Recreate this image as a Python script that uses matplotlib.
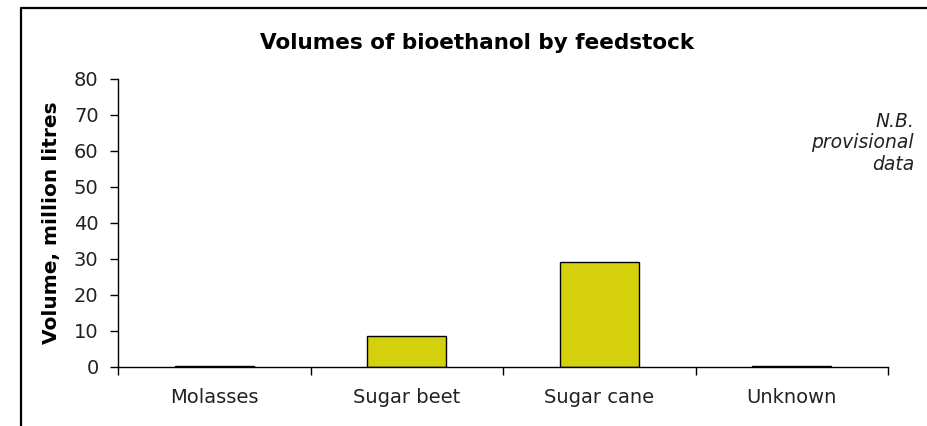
import matplotlib.pyplot as plt
from matplotlib.lines import Line2D

# Daten
feedstocks = ["Molasses", "Sugar beet", "Sugar cane", "Unknown"]
volumes = [0.4, 8.6, 29.2, 0.4]
y_ticks = [0, 10, 20, 30, 40, 50, 60, 70, 80]

BAR_COLOR = "#d4d00c"

fig = plt.figure(figsize=(9.27, 4.26), dpi=100)
ax = fig.add_axes([0.1273, 0.1385, 0.958 - 0.1273, 0.8153 - 0.1385])

x = range(len(feedstocks))
ax.bar(x, volumes, width=0.41, color=BAR_COLOR, edgecolor="black", linewidth=1.0)

ax.set_xlim(-0.5, len(feedstocks) - 0.5)
ax.set_ylim(0, 80)
ax.set_yticks(y_ticks)

# Ticks an den Kategoriegrenzen, Beschriftung mittig
ax.set_xticks([i - 0.5 for i in range(len(feedstocks) + 1)])
ax.set_xticklabels([])
ax.set_xticks(list(x), minor=True)
ax.set_xticklabels(feedstocks, minor=True)
ax.tick_params(axis="x", which="minor", length=0, pad=15, labelsize=14,
               labelcolor="#222222")
ax.tick_params(axis="x", which="major", length=6, width=1.0, direction="out")
ax.tick_params(axis="y", length=6, width=1.0, direction="out", pad=8,
               labelsize=14, labelcolor="#222222")

for side in ["top", "right"]:
    ax.spines[side].set_visible(False)
for side in ["left", "bottom"]:
    ax.spines[side].set_linewidth(1.0)

ax.set_ylabel("Volume, million litres", fontsize=14.5, fontweight="bold",
              labelpad=9)
fig.text(0.515, 0.9, "Volumes of bioethanol by feedstock", fontsize=15.5,
         fontweight="bold", ha="center", va="center")

fig.text(0.986, 0.737, "N.B.\nprovisional\ndata", fontsize=13.5,
         style="italic", ha="right", va="top", linespacing=1.15,
         color="#222222")

# Rahmen (links und oben)
fig.add_artist(Line2D([20.5 / 927, 20.5 / 927, 1.0],
                      [0.0, 1 - 7.5 / 426, 1 - 7.5 / 426],
                      transform=fig.transFigure, color="black", linewidth=1.6))

fig.savefig("out.png", dpi=100)
